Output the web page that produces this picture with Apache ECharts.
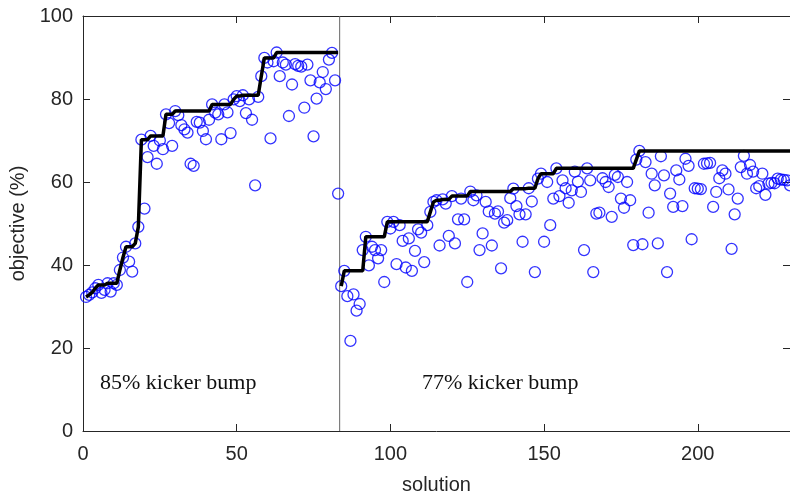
<!DOCTYPE html>
<html>
<head>
<meta charset="utf-8">
<script src="https://cdn.jsdelivr.net/npm/echarts@6/dist/echarts.min.js"></script>
<style>
  html, body { margin: 0; padding: 0; background: #fff; }
  #chart { width: 790px; height: 500px; }
</style>
</head>
<body>
<div id="chart"></div>
<script>
// objective of each solution, run 1 (85% kicker bump), solutions 1..83
const startA = 1;
const objA = [
  32.3, 32.8, 33.4, 34.4, 35.2, 33.3, 34.0, 35.6, 33.6, 35.6,
  35.2, 38.8, 41.8, 44.4, 40.8, 38.4, 45.2, 49.2, 70.2, 53.6,
  66.0, 71.1, 68.7, 64.4, 70.0, 67.9, 76.3, 74.2, 68.7, 77.1,
  76.1, 73.7, 72.7, 71.9, 64.4, 63.9, 74.5, 74.3, 72.3, 70.3,
  75.0, 78.7, 76.7, 76.3, 70.3, 78.7, 76.8, 71.8, 79.9, 80.7,
  79.5, 80.9, 76.6, 79.9, 75.0, 59.2, 80.5, 85.5, 89.9, 88.8,
  70.5, 89.1, 91.2, 85.5, 88.8, 88.3, 75.9, 83.5, 88.4, 88.0,
  87.8, 77.9, 88.3, 84.5, 71.0, 80.1, 84.0, 86.5, 82.4, 89.5,
  91.1, 84.5, 57.2
];

// run 2 (77% kicker bump), solutions 84..230
const startB = 84;
const objB = [
  34.9, 38.6, 32.5, 21.7, 32.9, 29.0, 30.6, 43.6, 46.8, 39.9,
  44.4, 43.6, 41.6, 43.6, 35.9, 50.4, 48.8, 50.4, 40.2, 49.6,
  45.8, 39.4, 46.4, 38.6, 43.4, 48.6, 47.8, 40.7, 49.6, 52.8,
  55.2, 55.6, 44.7, 55.8, 54.8, 47.0, 56.6, 45.2, 51.0, 56.0,
  51.0, 35.9, 57.7, 55.6, 56.8, 43.6, 47.6, 55.2, 52.9, 44.7,
  52.4, 52.9, 39.2, 50.2, 50.8, 56.1, 58.4, 54.2, 52.2, 45.6,
  52.2, 58.5, 55.3, 38.3, 60.8, 62.0, 45.6, 60.0, 49.6, 56.0,
  63.3, 56.6, 60.4, 58.5, 55.0, 58.0, 62.5, 60.1, 57.6, 43.6,
  63.3, 60.4, 38.3, 52.4, 52.6, 60.9, 60.0, 58.8, 51.6, 61.7,
  61.2, 56.0, 53.8, 60.0, 55.6, 44.8, 65.4, 67.5, 45.0, 64.8,
  52.6, 62.0, 59.2, 45.2, 66.2, 61.6, 38.3, 57.2, 54.0, 62.8,
  60.6, 54.2, 65.6, 63.9, 46.2, 58.5, 58.4, 58.3, 64.4, 64.5,
  64.6, 54.0, 57.6, 60.9, 62.8, 62.0, 58.2, 43.9, 52.2, 56.0,
  63.6, 66.3, 62.0, 64.1, 62.5, 58.5, 59.0, 62.0, 56.9, 59.6,
  59.8, 59.7, 60.8, 60.6, 60.5, 60.4, 59.2
];

// best-so-far curves, corners [solution, objective]
const bestA = [
  [1, 32.3], [2, 32.8], [3, 33.4], [4, 34.4], [5, 35.2], [7, 35.2], [8, 35.6],
  [11, 35.6], [12, 38.8], [13, 41.8], [14, 44.4], [16, 44.4], [17, 45.2],
  [18, 49.2], [19, 70.2], [21, 70.2], [22, 71.1], [26, 71.1], [27, 76.3],
  [29, 76.3], [30, 77.1], [41, 77.1], [42, 78.7], [48, 78.7], [49, 79.9],
  [50, 80.7], [51, 80.7], [52, 80.9], [57, 80.9], [58, 85.5], [59, 89.9],
  [62, 89.9], [63, 91.2], [83, 91.2]
];
const bestB = [
  [84, 34.9], [85, 38.6], [91, 38.6], [92, 46.8], [98, 46.8], [99, 50.4],
  [112, 50.4], [113, 52.8], [114, 55.2], [115, 55.6], [116, 55.6], [117, 55.8],
  [119, 55.8], [120, 56.6], [125, 56.6], [126, 57.7], [139, 57.7], [140, 58.4],
  [144, 58.4], [145, 58.5], [147, 58.5], [148, 60.8], [149, 62.0], [153, 62.0],
  [154, 63.3], [179, 63.3], [180, 65.4], [181, 67.5], [230, 67.5]
];

const splitAt = 83.5;
const xTicks = [0, 50, 100, 150, 200];
const yTicks = [0, 20, 40, 60, 80, 100];
const labelA = '85% kicker bump';
const labelB = '77% kicker bump';

const axisColor = '#262626';
const sans = '"Liberation Sans", Arial, sans-serif';
const serif = '22px "Liberation Serif", "Times New Roman", serif';

const chart = echarts.init(document.getElementById('chart'));

const toPoints = (vals, start) => vals.map((v, i) => [start + i, v]);

const scatterStyle = {
  type: 'scatter',
  symbol: 'circle',
  symbolSize: 11,
  itemStyle: { color: 'transparent', borderColor: '#0000ff', borderWidth: 1.3 },
  emphasis: { disabled: true },
  z: 2
};

const bestStyle = {
  type: 'line',
  showSymbol: false,
  lineStyle: { color: '#000', width: 3.5 },
  emphasis: { disabled: true },
  z: 3
};

// box axes: ticks inside, mirrored on top and right
const xBase = {
  type: 'value',
  min: xTicks[0],
  max: 230,
  interval: xTicks[1] - xTicks[0],
  axisLine: { onZero: false, lineStyle: { color: axisColor, width: 1 } },
  axisTick: { inside: true, length: 7, lineStyle: { color: axisColor } },
  splitLine: { show: false }
};
const yBase = {
  type: 'value',
  min: yTicks[0],
  max: yTicks[yTicks.length - 1],
  interval: yTicks[1] - yTicks[0],
  axisLine: { show: true, onZero: false, lineStyle: { color: axisColor, width: 1 } },
  axisTick: { show: true, inside: true, length: 7, lineStyle: { color: axisColor } },
  splitLine: { show: false }
};

const option = {
  animation: false,
  backgroundColor: '#fff',
  grid: { left: 83, right: 0, top: 16, bottom: 66 },
  xAxis: [
    Object.assign({}, xBase, {
      name: 'solution',
      nameLocation: 'middle',
      nameGap: 44,
      nameTextStyle: { fontFamily: sans, fontSize: 20, color: axisColor },
      axisLabel: { fontFamily: sans, fontSize: 20, color: axisColor, margin: 13, showMaxLabel: false }
    }),
    Object.assign({}, xBase, {
      position: 'top',
      axisLabel: { show: false }
    })
  ],
  yAxis: [
    Object.assign({}, yBase, {
      name: 'objective (%)',
      nameLocation: 'middle',
      nameGap: 51,
      nameTextStyle: { fontFamily: sans, fontSize: 20, color: axisColor },
      axisLabel: { fontFamily: sans, fontSize: 20, color: axisColor, margin: 10 }
    }),
    Object.assign({}, yBase, {
      position: 'right',
      axisLabel: { show: false }
    })
  ],
  series: [
    {
      // divider between the two runs
      type: 'line',
      data: [[splitAt, 0], [splitAt, 100]],
      showSymbol: false,
      lineStyle: { color: '#666', width: 1 },
      emphasis: { disabled: true },
      z: 1
    },
    Object.assign({ name: 'runA', data: toPoints(objA, startA) }, scatterStyle),
    Object.assign({ name: 'runB', data: toPoints(objB, startB) }, scatterStyle),
    Object.assign({ name: 'bestA', data: bestA }, bestStyle),
    Object.assign({ name: 'bestB', data: bestB }, bestStyle)
  ],
  graphic: [
    { type: 'text', left: 100, top: 372, style: { text: labelA, font: serif, fill: '#111' } },
    { type: 'text', left: 422, top: 372, style: { text: labelB, font: serif, fill: '#111' } }
  ]
};

chart.setOption(option);
</script>
</body>
</html>
